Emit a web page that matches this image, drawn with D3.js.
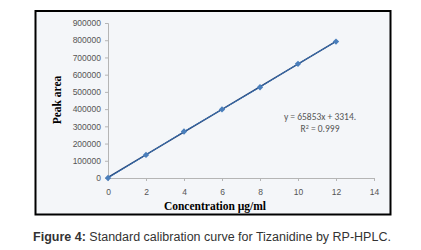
<!DOCTYPE html>
<html>
<head>
<meta charset="utf-8">
<script src="https://cdn.jsdelivr.net/npm/d3@7"></script>
<style>
  body { margin: 0; background: #fff; }
  svg { display: block; }
</style>
</head>
<body>
<div class="container"></div>
<script>
// calibration data
const concentration = [0, 2, 4, 6, 8, 10, 12]
const peakArea = [0, 134000, 270000, 398000, 527000, 663000, 792000]
const xTicks = [0, 2, 4, 6, 8, 10, 12, 14]
const yTicks = [0, 100000, 200000, 300000, 400000, 500000, 600000, 700000, 800000, 900000]
const slope = 65853
const intercept = 3314

const width = 421
const height = 250
const margin = {"top": 23, "right": 46, "bottom": 72, "left": 108}

const svg = d3.select(".container")
    .append("svg")
    .attr("width", width)
    .attr("height", height)

// outer chart frame
svg.append("rect")
    .attr("x", 35.5)
    .attr("y", 11)
    .attr("width", 355)
    .attr("height", 203.5)
    .style("fill", "#f4f6f9")
    .style("stroke", "#000")
    .style("stroke-width", 2)

const x = d3.scaleLinear()
    .domain([0, 14])
    .range([margin.left, width - margin.right - 1])

const y = d3.scaleLinear()
    .domain([0, 900000])
    .range([height - margin.bottom, margin.top])

svg.append("g")
    .attr("transform", `translate(0, ${y(0)})`)
    .call(d3.axisBottom(x).tickValues(xTicks).tickSize(3).tickPadding(8).tickFormat(d3.format("d")))

svg.append("g")
    .attr("transform", `translate(${x(0)}, 0)`)
    .call(d3.axisLeft(y).tickValues(yTicks).tickSize(3).tickPadding(4).tickFormat(d3.format("d")))

svg.selectAll(".domain, .tick line")
    .style("stroke", "#b5b5b5")
svg.selectAll(".tick text")
    .style("fill", "#555")
    .style("font-family", "'Liberation Sans', Arial, sans-serif")
    .style("font-size", "8.5px")

// trendline
svg.append("line")
    .attr("x1", x(0))
    .attr("y1", y(intercept))
    .attr("x2", x(12))
    .attr("y2", y(slope * 12 + intercept))
    .style("stroke", "#1f3f73")
    .style("stroke-width", 1.3)

// series line + diamond markers
const pts = concentration.map((c, i) => [c, peakArea[i]])

svg.append("path")
    .datum(pts)
    .attr("d", d3.line().x(d => x(d[0])).y(d => y(d[1])))
    .style("fill", "none")
    .style("stroke", "#3b6eab")
    .style("stroke-width", 1)

svg.selectAll(".pt")
    .data(pts)
    .enter()
    .append("path")
    .attr("class", "pt")
    .attr("transform", d => `translate(${x(d[0])}, ${y(d[1])}) rotate(45)`)
    .attr("d", d3.symbol(d3.symbolSquare, 20))
    .style("fill", "#4a7ebb")

// equation
const eq = svg.append("text")
    .attr("x", 320)
    .attr("y", 120)
    .attr("text-anchor", "middle")
    .style("font-family", "Carlito, 'Liberation Sans', sans-serif")
    .style("font-size", "9.5px")
    .style("fill", "#555")
eq.append("tspan").attr("x", 320).text("y = 65853x + 3314.")
const r2 = eq.append("tspan").attr("x", 320).attr("dy", 12).text("R")
r2.append("tspan").attr("dy", -3).style("font-size", "6px").text("2")
eq.append("tspan").attr("dy", 3).text(" = 0.999")

// axis titles
svg.append("text")
    .attr("x", 215)
    .attr("y", 210)
    .attr("text-anchor", "middle")
    .style("font-family", "'Liberation Serif', 'Times New Roman', serif")
    .style("font-weight", "bold")
    .style("font-size", "11.5px")
    .text("Concentration µg/ml")

svg.append("text")
    .attr("transform", `translate(61, 100) rotate(-90)`)
    .attr("text-anchor", "middle")
    .style("font-family", "'Liberation Serif', 'Times New Roman', serif")
    .style("font-weight", "bold")
    .style("font-size", "11.5px")
    .text("Peak area")

// caption
const cap = svg.append("text")
    .attr("x", 212)
    .attr("y", 241)
    .attr("text-anchor", "middle")
    .style("font-family", "'Liberation Sans', Arial, sans-serif")
    .style("font-size", "12.5px")
    .style("fill", "#333")
cap.append("tspan").style("font-weight", "bold").text("Figure 4:")
cap.append("tspan").text(" Standard calibration curve for Tizanidine by RP-HPLC.")
</script>
</body>
</html>
